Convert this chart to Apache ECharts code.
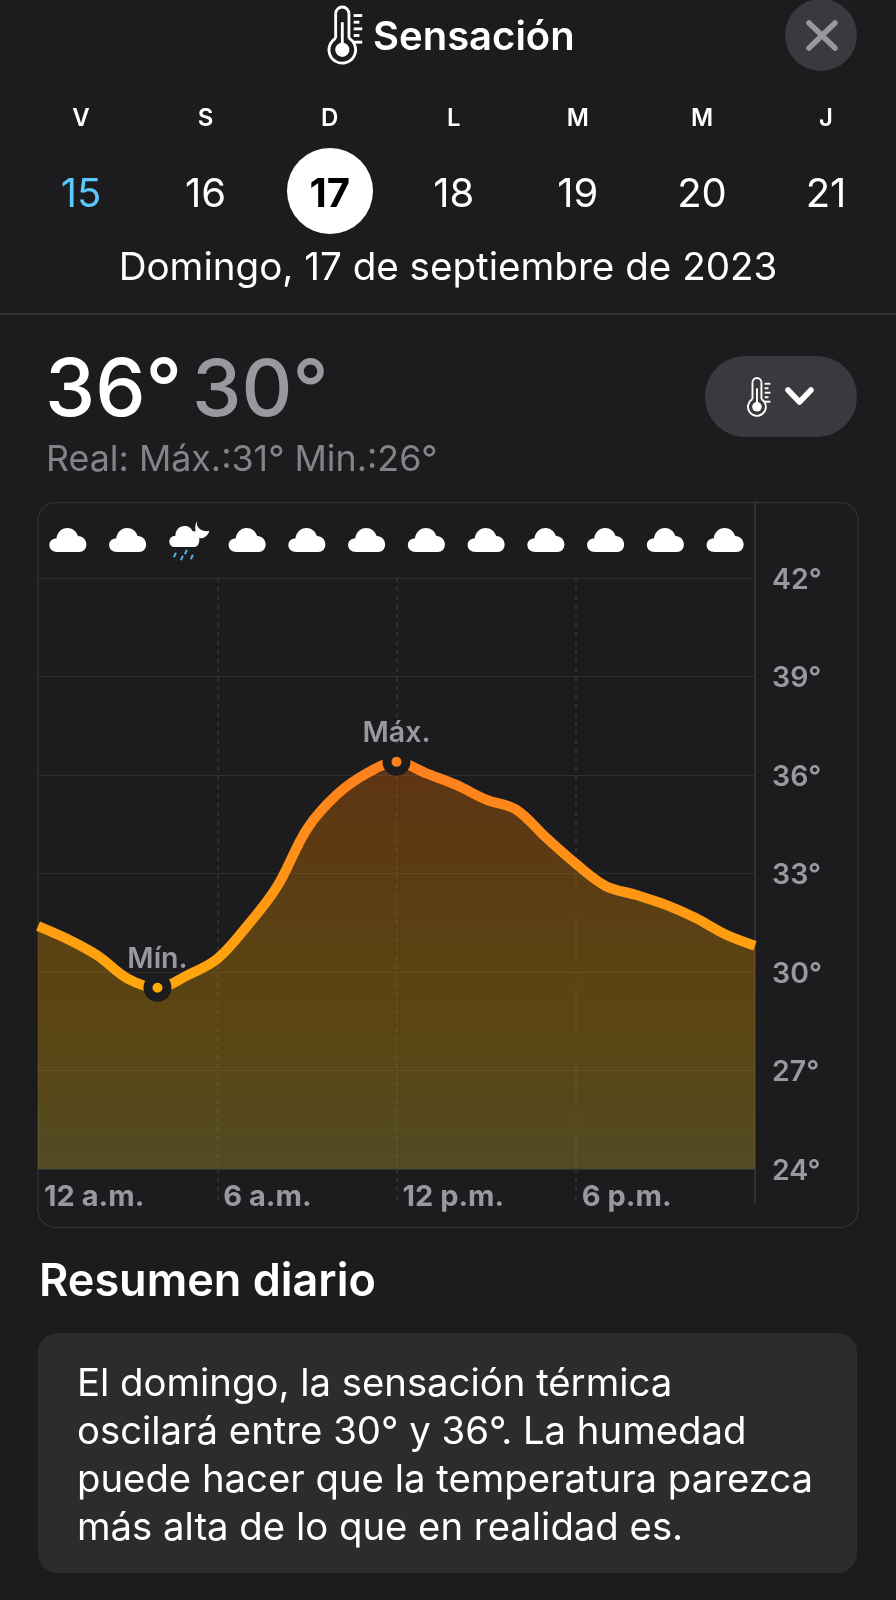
<!DOCTYPE html>
<html>
<head>
<meta charset="utf-8">
<title>Sensación</title>
<script src="https://cdn.jsdelivr.net/npm/echarts@6/dist/echarts.min.js"></script>
<style>
html, body { margin: 0; padding: 0; background: #1c1c1e; }
#main { width: 896px; height: 1600px; }
</style>
</head>
<body>
<div id="main"></div>
<script>
// sensacion termica por hora, 0h a 24h
var hours = [0,1,2,3,4,5,6,7,8,9,10,11,12,13,14,15,16,17,18,19,20,21,22,23,24];
var temps = [31.4,31.0,30.5,29.8,29.52,29.9,30.4,31.4,32.6,34.35,35.4,36.05,36.4,36.05,35.7,35.25,34.95,34.1,33.3,32.62,32.35,32.05,31.65,31.15,30.8];
var tickLabels = ['12 a.m.', '6 a.m.', '12 p.m.', '6 p.m.'];
var extremeHours = [4, 12];
var extremeNames = ['Mín.', 'Máx.'];
var iconHours = [1,3,5,7,9,11,13,15,17,19,21,23];
var iconKinds = ['cloud','cloud','rain','cloud','cloud','cloud','cloud','cloud','cloud','cloud','cloud','cloud'];
var weekDays = ['V','S','D','L','M','M','J'];
var dayNums = ['15','16','17','18','19','20','21'];
var summaryLines = [
    'El domingo, la sensación térmica',
    'oscilará entre 30° y 36°. La humedad',
    'puede hacer que la temperatura parezca',
    'más alta de lo que en realidad es.'
];

var FONT = 'Inter';
var GREY = '#98989e';
var cloudPath = 'path://M8 24C3 24 0 21 0 17C0 13 3 10.5 7 10.5C8 4.5 12 0 18 0C23 0 27 3 28.5 8C33.5 8 37 12 37 16.5C37 21 34 24 30 24Z';
var rainCloudPath = 'path://M28 0C26 6 31 11 40 10C38 16 33 18 30.5 17C26 15.5 24 5 28 0ZM6 26C2 26 0 24 0 20.5C0 17 2.5 15 6 15C6 9 10 5 15 5C19 5 22 7 23 10C27 10 30 13 30 18.5C30 23 28 26 25 26Z';
var dropsPath = 'path://M2 3L4 3.6L2 8L0 7.4ZM9 6L11 6.6L9 11L7 10.4ZM13 0L15 .6L13 5L11 4.4ZM19 5L21 5.6L19 10L17 9.4Z';

function txt(text, x, y, font, fill, align) {
    return {
        type: 'text',
        style: { text: text, x: x, y: y, font: font, fill: fill, textAlign: align || 'center', textVerticalAlign: 'middle' }
    };
}

// termometro dibujado a mano, caja 35x59
function thermo(x, y, s) {
    var stroke = { fill: 'none', stroke: '#fff', lineWidth: 3 };
    var kids = [
        { type: 'arc', shape: { cx: 14, cy: 7, r: 7, startAngle: Math.PI, endAngle: 2 * Math.PI, clockwise: true }, style: stroke },
        { type: 'arc', shape: { cx: 14, cy: 45.1, r: 14, startAngle: -1.047, endAngle: 4.189, clockwise: true }, style: stroke },
        { type: 'line', shape: { x1: 7, y1: 7, x2: 7, y2: 33 }, style: stroke },
        { type: 'line', shape: { x1: 21, y1: 7, x2: 21, y2: 33 }, style: stroke },
        { type: 'circle', shape: { cx: 14, cy: 45, r: 7.5 }, style: { fill: '#fff' } },
        { type: 'rect', shape: { x: 12.5, y: 16, width: 3, height: 28 }, style: { fill: '#fff' } }
    ];
    var ticks = [9, 16, 23, 30, 37];
    for (var i = 0; i < ticks.length; i++) {
        kids.push({ type: 'line', shape: { x1: 26, y1: ticks[i], x2: i % 2 ? 32 : 35, y2: ticks[i] }, style: { stroke: '#fff', lineWidth: 3 } });
    }
    return { type: 'group', x: x, y: y, scaleX: s, scaleY: s, children: kids };
}

var dayX = [81, 205.5, 329.7, 453.7, 577.7, 702, 826];
var shapes = [];

// marco del grafico
shapes.push({ type: 'rect', z: -1, shape: { x: 38, y: 502.5, width: 820, height: 725, r: 18 }, style: { fill: 'none', stroke: '#303033', lineWidth: 1.5 } });

// cabecera
shapes.push(thermo(329, 7, 0.95));
shapes.push(txt('Sensación', 373, 38, '600 40px ' + FONT, '#fff', 'left'));
shapes.push({ type: 'circle', shape: { cx: 821, cy: 35, r: 36 }, style: { fill: '#3a3a3e' } });
shapes.push({ type: 'line', shape: { x1: 809, y1: 23, x2: 835, y2: 48 }, style: { stroke: GREY, lineWidth: 5.5, lineCap: 'round' } });
shapes.push({ type: 'line', shape: { x1: 835, y1: 23, x2: 809, y2: 48 }, style: { stroke: GREY, lineWidth: 5.5, lineCap: 'round' } });

// selector de dias
shapes.push({ type: 'circle', shape: { cx: 330, cy: 191, r: 43 }, style: { fill: '#fff' } });
for (var i = 0; i < weekDays.length; i++) {
    shapes.push(txt(weekDays[i], dayX[i], 119, '600 24px ' + FONT, '#fff'));
    var col = i === 0 ? '#5ac8fa' : (i === 2 ? '#000' : '#fff');
    shapes.push(txt(dayNums[i], dayX[i], 195, (i === 2 ? '700' : '400') + ' 40px ' + FONT, col));
}
shapes.push(txt('Domingo, 17 de septiembre de 2023', 448, 268, '400 38.6px ' + FONT, '#fff'));
shapes.push({ type: 'line', shape: { x1: 0, y1: 314, x2: 896, y2: 314 }, style: { stroke: '#38383a', lineWidth: 1.5 } });

// maxima y minima
shapes.push(txt('36°', 45, 392, '500 80px ' + FONT, '#fff', 'left'));
shapes.push(txt('30°', 192, 392, '500 79px ' + FONT, GREY, 'left'));
shapes.push(txt('Real: Máx.:31° Min.:26°', 46, 460, '400 35.8px ' + FONT, '#838388', 'left'));

// boton desplegable
shapes.push({ type: 'rect', shape: { x: 705, y: 356, width: 152, height: 81, r: 40 }, style: { fill: '#3a3a3e' } });
shapes.push(thermo(748, 378, 0.64));
shapes.push({ type: 'polyline', shape: { points: [[788, 390], [799.5, 402], [811, 390]] }, style: { fill: 'none', stroke: '#fff', lineWidth: 5.5, lineCap: 'round', lineJoin: 'round' } });

// resumen
shapes.push(txt('Resumen diario', 39, 1282, '600 45px ' + FONT, '#fff', 'left'));
shapes.push({ type: 'rect', shape: { x: 38, y: 1333, width: 819, height: 240, r: 20 }, style: { fill: '#2c2c2e' } });
var lineY = [1384, 1432, 1480, 1528];
for (var j = 0; j < summaryLines.length; j++) {
    shapes.push(txt(summaryLines[j], 77, lineY[j], '400 38.3px ' + FONT, '#fff', 'left'));
}

var iconData = [];
for (var k = 0; k < iconHours.length; k++) {
    if (iconKinds[k] === 'cloud') {
        iconData.push({ value: [iconHours[k], 0.5], symbol: cloudPath, symbolSize: [37, 24] });
    } else {
        iconData.push({ value: [iconHours[k], 0.5], symbol: rainCloudPath, symbolSize: [40, 26], symbolOffset: [2, -6] });
    }
}
var rainData = [];
for (var m = 0; m < iconHours.length; m++) {
    if (iconKinds[m] === 'rain') rainData.push([iconHours[m], 0.5]);
}
var extremeData = [];
for (var n = 0; n < extremeHours.length; n++) {
    extremeData.push({ value: [extremeHours[n], temps[extremeHours[n]]], name: extremeNames[n] });
}
var lineData = [];
for (var h = 0; h < hours.length; h++) lineData.push([hours[h], temps[h]]);

function sideAxis(idx) {
    return {
        type: 'value', gridIndex: idx, position: 'right', min: 0, max: 1, interval: 1,
        axisLine: { show: true, onZero: false, lineStyle: { color: '#38383a', width: 1.5 } },
        axisTick: { show: false }, axisLabel: { show: false }, splitLine: { show: false }
    };
}
var dashed = { show: true, showMinLine: false, showMaxLine: false, lineStyle: { color: '#343438', width: 1.5, type: [4, 5] } };

var option = {
    backgroundColor: '#1c1c1e',
    animation: false,
    textStyle: { fontFamily: FONT },
    grid: [
        { left: 38, right: 141, top: 578, height: 591 },
        { left: 38, right: 141, top: 502, height: 76 },
        { left: 38, right: 141, top: 1169, height: 34 }
    ],
    xAxis: [
        { type: 'value', gridIndex: 0, min: 0, max: 24, interval: 6,
          axisLine: { show: false }, axisTick: { show: false }, axisLabel: { show: false }, splitLine: dashed },
        { type: 'value', gridIndex: 1, min: 0, max: 24, show: false, splitLine: { show: false } },
        { type: 'value', gridIndex: 2, min: 0, max: 24, interval: 6,
          axisLine: { show: false }, axisTick: { show: false }, splitLine: dashed,
          axisLabel: {
              inside: true, margin: 6, align: 'left', verticalAlign: 'middle', padding: [0, 0, 0, 6],
              color: GREY, fontFamily: FONT, fontSize: 29, fontWeight: 700,
              formatter: function (v) { return tickLabels[v / 6] || ''; }
          } }
    ],
    yAxis: [
        { type: 'value', gridIndex: 0, position: 'right', min: 24, max: 42, interval: 3,
          axisLine: { show: true, onZero: false, lineStyle: { color: '#38383a', width: 1.5 } },
          axisTick: { show: false },
          // lineHeight corto con alineacion top: baja el texto 2px respecto a la linea
          axisLabel: { margin: 17, verticalAlign: 'top', lineHeight: 4, color: GREY, fontFamily: FONT, fontSize: 28.5, fontWeight: 600, formatter: '{value}°' },
          splitLine: { show: true, lineStyle: { color: '#2f2f32', width: 1 } } },
        sideAxis(1),
        sideAxis(2)
    ],
    series: [
        {
            name: 'Sensación', type: 'line', xAxisIndex: 0, yAxisIndex: 0, data: lineData,
            smooth: 0.35, showSymbol: false, symbol: 'none', z: 3,
            lineStyle: {
                width: 10,
                color: { type: 'linear', x: 0, y: 760, x2: 0, y2: 990, global: true,
                    colorStops: [{ offset: 0, color: '#ff7f1e' }, { offset: 1, color: '#ffa80c' }] }
            },
            areaStyle: {
                origin: 'start', opacity: 1,
                color: { type: 'linear', x: 0, y: 0, x2: 0, y2: 1,
                    colorStops: [
                        { offset: 0, color: 'rgba(193,88,5,0.4)' },
                        { offset: 0.4, color: 'rgba(185,118,2,0.4)' },
                        { offset: 0.65, color: 'rgba(185,133,2,0.4)' },
                        { offset: 1, color: 'rgba(163,143,45,0.4)' }
                    ] }
            }
        },
        {
            name: 'Extremos', type: 'scatter', xAxisIndex: 0, yAxisIndex: 0, data: extremeData, z: 5,
            symbolSize: 19, clip: false,
            itemStyle: {
                opacity: 1, borderColor: '#1c1c1e', borderWidth: 9,
                color: function (p) { return p.dataIndex === 0 ? '#ffa80c' : '#ff7f1e'; }
            },
            label: {
                show: true, position: 'top', distance: 0, color: GREY, fontFamily: FONT, fontSize: 28.5, fontWeight: 600,
                formatter: function (p) { return p.name; }
            }
        },
        {
            name: 'Cielo', type: 'scatter', xAxisIndex: 1, yAxisIndex: 1, data: iconData,
            itemStyle: { color: '#fff', opacity: 1 }
        },
        {
            name: 'Lluvia', type: 'scatter', xAxisIndex: 1, yAxisIndex: 1, data: rainData,
            symbol: dropsPath, symbolSize: [21, 11], symbolOffset: [-4, 15],
            itemStyle: { color: '#4fb3e0', opacity: 1 }
        }
    ],
    graphic: shapes
};

var chart = echarts.init(document.getElementById('main'));
chart.setOption(option);
</script>
</body>
</html>
